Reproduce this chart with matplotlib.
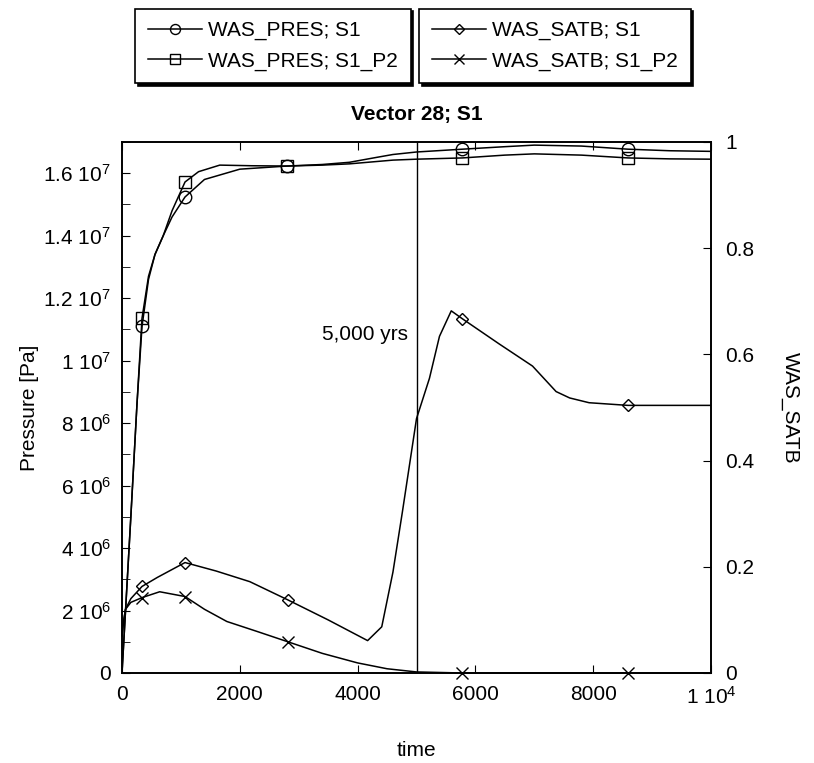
import numpy as np
import matplotlib
matplotlib.use("Agg")
import matplotlib.pyplot as plt
from matplotlib.ticker import FuncFormatter, MultipleLocator

plt.rcParams['font.family'] = ['Liberation Sans', 'DejaVu Sans']
plt.rcParams['mathtext.fontset'] = 'custom'
plt.rcParams['mathtext.rm'] = 'Liberation Sans'
plt.rcParams['mathtext.default'] = 'regular'

# pressure (Pa)
t_pres_s1 = [0, 150, 254, 340, 450, 560, 700, 850, 1070, 1400, 2000, 2800, 3400,
             3860, 4300, 4600, 5000, 5780, 6500, 7000, 7800, 8590, 9300, 10000]
pres_s1 = [0, 5.0, 8.6, 11.1, 12.6, 13.4, 14.0, 14.6, 15.24, 15.8, 16.13, 16.23, 16.28,
           16.35, 16.5, 16.6, 16.68, 16.77, 16.85, 16.9, 16.87, 16.77, 16.72, 16.7]
t_pres_p2 = [0, 150, 254, 340, 450, 560, 700, 850, 1070, 1300, 1660, 2200, 2800, 3400,
             3860, 4600, 5000, 5780, 6500, 7000, 7800, 8590, 9300, 10000]
pres_p2 = [0, 5.0, 8.6, 11.36, 12.7, 13.4, 14.0, 14.8, 15.72, 16.05, 16.26, 16.24, 16.23, 16.26,
           16.3, 16.42, 16.45, 16.49, 16.58, 16.62, 16.58, 16.49, 16.46, 16.45]

# brine saturation
t_satb_s1 = [0, 30, 60, 150, 340, 600, 1070, 1600, 2170, 2810, 3500, 4170, 4410, 4600,
             4760, 5000, 5220, 5390, 5590, 5780, 6400, 6970, 7370, 7600, 7930, 8590, 10000]
satb_s1 = [0.07, 0.10, 0.12, 0.14, 0.163, 0.18, 0.208, 0.192, 0.172, 0.138, 0.10, 0.061, 0.087, 0.19,
           0.303, 0.479, 0.555, 0.634, 0.682, 0.667, 0.62, 0.578, 0.530, 0.518, 0.509, 0.504, 0.504]
t_satb_p2 = [0, 30, 60, 150, 340, 640, 1070, 1400, 1780, 2300, 2810, 3400, 4000, 4500,
             5000, 5780, 8590, 10000]
satb_p2 = [0.07, 0.10, 0.12, 0.133, 0.142, 0.153, 0.144, 0.12, 0.097, 0.078, 0.059, 0.037, 0.019, 0.008,
           0.002, 0, 0, 0]

mark_times = [340, 1070, 2800, 5780, 8590]


def mark_idx(ts):
    return [int(np.argmin(np.abs(np.array(ts) - m))) for m in mark_times]


def sci_label(v, pos):
    if v == 0:
        return "0"
    e = int(np.floor(np.log10(abs(v)) + 1e-9))
    m = v / 10 ** e
    ms = ("%.1f" % m).rstrip("0").rstrip(".")
    return ms + " 10$^{%d}$" % e


def x_label(v, pos):
    if v >= 10000:
        return sci_label(v, pos)
    return "%d" % v


fs = 15
fig = plt.figure(figsize=(8.14, 7.63), dpi=100)
ax = fig.add_axes([122 / 814, 1 - 673 / 763, (711 - 122) / 814, (673 - 142) / 763])
ax2 = ax.twinx()

lw = 1.1
l1, = ax.plot(t_pres_s1, np.array(pres_s1) * 1e6, color='k', lw=lw, marker='o', ms=9,
              mfc='none', mew=1.0, markevery=mark_idx(t_pres_s1), label='WAS_PRES; S1')
l2, = ax.plot(t_pres_p2, np.array(pres_p2) * 1e6, color='k', lw=lw, marker='s', ms=9,
              mfc='none', mew=1.0, markevery=mark_idx(t_pres_p2), label='WAS_PRES; S1_P2')
l3, = ax2.plot(t_satb_s1, satb_s1, color='k', lw=lw, marker='D', ms=6.5,
               mfc='none', mew=1.0, markevery=mark_idx(t_satb_s1), label='WAS_SATB; S1')
l4, = ax2.plot(t_satb_p2, satb_p2, color='k', lw=lw, marker='x', ms=9, clip_on=False,
               mew=1.0, markevery=mark_idx(t_satb_p2), label='WAS_SATB; S1_P2')

ax.axvline(5000, color='k', lw=1.0)
ax.text(4850, 1.085e7, "5,000 yrs", ha='right', va='center', fontsize=fs)

ax.set_xlim(0, 10000)
ax.set_ylim(0, 1.7e7)
ax2.set_ylim(0, 1)

ax.xaxis.set_major_locator(MultipleLocator(2000))
ax.xaxis.set_major_formatter(FuncFormatter(x_label))
ax.yaxis.set_major_locator(MultipleLocator(2e6))
ax.yaxis.set_minor_locator(MultipleLocator(1e6))
ax.yaxis.set_major_formatter(FuncFormatter(sci_label))
ax2.yaxis.set_major_locator(MultipleLocator(0.2))
ax2.yaxis.set_major_formatter(FuncFormatter(lambda v, p: "%g" % round(v, 1)))

ax.tick_params(axis='x', direction='in', top=True, length=6, labelsize=fs, pad=9)
ax.tick_params(axis='y', which='both', direction='in', length=6, labelsize=fs, pad=8)
ax2.tick_params(axis='y', direction='in', length=6, labelsize=fs, pad=10)

for sp in list(ax.spines.values()) + list(ax2.spines.values()):
    sp.set_linewidth(1.2)

ax.set_xlabel("time", fontsize=fs, labelpad=24)
ax.set_ylabel("Pressure [Pa]", fontsize=fs, labelpad=3)
ax2.set_ylabel("WAS_SATB", fontsize=fs, rotation=270, labelpad=33)
ax.set_title("Vector 28; S1", fontsize=fs, fontweight='bold', pad=16)

leg_kw = dict(loc='center', frameon=True, fancybox=False, fontsize=fs, handlelength=2.6,
              numpoints=1, borderpad=0.6, labelspacing=0.55, handletextpad=0.3,
              borderaxespad=0, markerscale=0.8,
              shadow={'color': 'black', 'alpha': 1.0})
leg1 = fig.legend(handles=[l1, l2], bbox_to_anchor=(273 / 814, 1 - 46 / 763), **leg_kw)
leg2 = fig.legend(handles=[l3, l4], bbox_to_anchor=(555 / 814, 1 - 46 / 763), **leg_kw)
for lg in (leg1, leg2):
    lg.get_frame().set_edgecolor('black')
    lg.get_frame().set_linewidth(1.2)

fig.savefig("out.png", dpi=100)
